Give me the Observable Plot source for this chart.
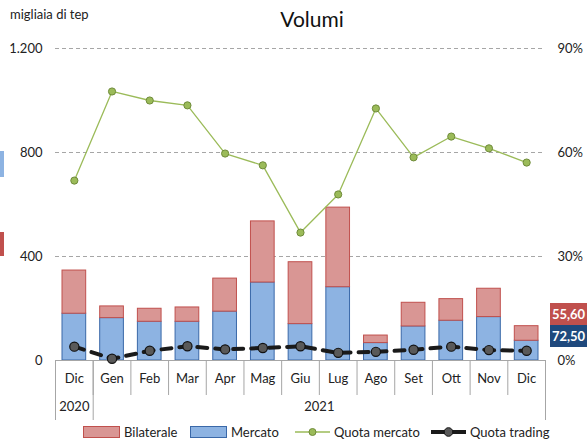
<!DOCTYPE html>
<html><head><meta charset="utf-8">
<script src="https://cdn.jsdelivr.net/npm/d3@7"></script>
<script src="https://cdn.jsdelivr.net/npm/@observablehq/plot@0.6"></script>
<style>
body{margin:0;background:#fff;font-family:Lato,"Open Sans",sans-serif;}
#wrap{position:relative;width:587px;height:443px;overflow:hidden;}
.abs{position:absolute;}
.item{position:absolute;top:424px;display:flex;align-items:center;font-size:13px;color:#222;white-space:nowrap;}
.sw{width:35px;height:10px;margin-right:4px;}
.badge{position:absolute;left:550px;width:37px;height:22px;color:#fff;font-weight:bold;font-size:13px;line-height:22px;text-align:center;}
</style></head>
<body><div id="wrap">
<div class="abs" style="left:10px;top:6px;font-size:13px;color:#222">migliaia di tep</div>
<div class="abs" style="left:0;width:624px;top:6px;text-align:center;font-size:21px;color:#111">Volumi</div>
<div class="abs" style="left:0;top:151px;width:4px;height:26px;background:#8db3e2"></div>
<div class="abs" style="left:0;top:232px;width:4px;height:24px;background:#c0504d"></div>
<div id="chart" class="abs" style="left:0;top:36px"></div>
<div class="badge" style="top:303px;background:#c0504d">55,60</div>
<div class="badge" style="top:325px;background:#1f497d">72,50</div>
</div>
<script>
const keys = ["Dic 2020","Gen","Feb","Mar","Apr","Mag","Giu","Lug","Ago","Set","Ott","Nov","Dic"];
const months = ["Dic","Gen","Feb","Mar","Apr","Mag","Giu","Lug","Ago","Set","Ott","Nov","Dic"];
const mercato = [180,163,149,149,188,300,140,282,67,131,153,167,76];
const bilaterale = [166,45,50,55,127,235,238,306,29,91,83,109,56];
const quotaMercato = [51.9,77.6,75.0,73.6,59.7,56.3,36.9,47.9,72.7,58.6,64.6,61.2,57.1];
const quotaTrading = [4.0,0.5,2.8,4.1,3.2,3.6,4.1,2.2,2.5,3.1,4.0,3.0,2.8];
const yearLabels = ["2020","2021"];
const yearFirst = ["Dic 2020","Gen"];
const yearMonths = [1,12];
const leftTicks = [0,400,800,1200];
const rightTickLabels = ["0%","30%","60%","90%"];
const gridTicks = [400,800,1200];
const pctMax = 90, volMax = 1200;

const data = keys.map((k,i)=>({key:k, mese:months[i], m:mercato[i], b:bilaterale[i], qm:quotaMercato[i], qt:quotaTrading[i]}));
const W = 587, H = 384, mL = 55, mR = 42, mT = 12, mB = 60;
const band = (W - mL - mR) / keys.length;
const plotH = H - mT - mB;
const toVol = p => p / pctMax * volMax;
const loc = d3.formatLocale({decimal:",", thousands:".", grouping:[3], currency:["","€"]});
const fmt = loc.format(",");
const font = "Lato, 'Open Sans', sans-serif";

const yearMarks = yearLabels.map((lab, i) =>
  Plot.text([lab], {x: () => yearFirst[i], text: d => d, frameAnchor: "bottom", dy: 50, dx: (yearMonths[i]-1)*band/2, fontSize: 13, fill: "#222"}));

const chart = Plot.plot({
  width: W, height: H, marginLeft: mL, marginRight: mR, marginTop: mT, marginBottom: mB,
  style: {fontFamily: font, fontSize: "13px", color: "#222", background: "transparent"},
  x: {type: "band", domain: keys, padding: 0, round: false, axis: null},
  y: {domain: [0, volMax], axis: null},
  marks: [
    Plot.ruleY(gridTicks, {stroke: "#a6a6a6", strokeDasharray: "4,3", strokeWidth: 1.2}),
    Plot.barY(data, {x: "key", y1: 0, y2: "m", fill: "#8db3e2", stroke: "#3a68a8", strokeWidth: 1, insetLeft: 7, insetRight: 7}),
    Plot.barY(data, {x: "key", y1: "m", y2: d => d.m + d.b, fill: "#d99694", stroke: "#c0504d", strokeWidth: 1, insetLeft: 7, insetRight: 7}),
    Plot.ruleY([0], {stroke: "#a6a6a6", strokeWidth: 1}),
    Plot.ruleX(keys, {x: d => d, dx: -band/2, insetTop: plotH, insetBottom: -35, stroke: "#a6a6a6"}),
    Plot.ruleX(yearFirst, {x: d => d, dx: -band/2, insetTop: plotH, insetBottom: -60, stroke: "#a6a6a6"}),
    Plot.ruleX([keys[keys.length-1]], {x: d => d, dx: band/2, insetTop: plotH, insetBottom: -60, stroke: "#a6a6a6"}),
    Plot.line(data, {x: "key", y: d => toVol(d.qm), stroke: "#9bbb59", strokeWidth: 1.3}),
    Plot.dot(data, {x: "key", y: d => toVol(d.qm), r: 3.6, fill: "#9bbb59", stroke: "#6f8b3a", strokeWidth: 1}),
    Plot.line(data, {x: "key", y: d => toVol(d.qt), stroke: "#1a1a1a", strokeWidth: 4, strokeDasharray: "10,8"}),
    Plot.dot(data, {x: "key", y: d => toVol(d.qt), r: 4.6, fill: "#595959", stroke: "#111", strokeWidth: 1.2}),
    Plot.text(data, {x: "key", text: "mese", frameAnchor: "bottom", dy: 22, fontSize: 13, fill: "#222"}),
    ...yearMarks,
    Plot.axisY({anchor: "left", label: null, ticks: leftTicks, tickSize: 0, tickPadding: 13, tickFormat: fmt, fontSize: 13}),
    Plot.axisY({anchor: "right", label: null, ticks: leftTicks, tickSize: 0, tickPadding: 12, textAnchor: "start", tickFormat: d => rightTickLabels[leftTicks.indexOf(d)], fontSize: 13})
  ]
});
document.getElementById("chart").appendChild(chart);

const legendItems = [
  {label: "Bilaterale", type: "bar", fill: "#d99694", stroke: "#c0504d"},
  {label: "Mercato", type: "bar", fill: "#8db3e2", stroke: "#3a68a8"},
  {label: "Quota mercato", type: "line", stroke: "#9bbb59", width: 1.3, dot: "#9bbb59", dotStroke: "#6f8b3a", r: 3.5},
  {label: "Quota trading", type: "line", stroke: "#1a1a1a", width: 4, dot: "#595959", dotStroke: "#111", r: 4.3}
];
const legendLeft = [83, 190, 294, 430];
const wrap = document.getElementById("wrap");
legendItems.forEach((it, i) => {
  const d = document.createElement("div"); d.className = "item"; d.style.left = legendLeft[i] + "px";
  if (it.type === "bar") {
    d.innerHTML = `<div class="sw" style="background:${it.fill};border:1px solid ${it.stroke}"></div><span>${it.label}</span>`;
  } else {
    d.innerHTML = `<svg width="37" height="12" style="margin-right:3px"><line x1="1" x2="36" y1="6" y2="6" stroke="${it.stroke}" stroke-width="${it.width}"/><circle cx="18.5" cy="6" r="${it.r}" fill="${it.dot}" stroke="${it.dotStroke}"/></svg><span>${it.label}</span>`;
  }
  wrap.appendChild(d);
});
</script>
</body></html>
